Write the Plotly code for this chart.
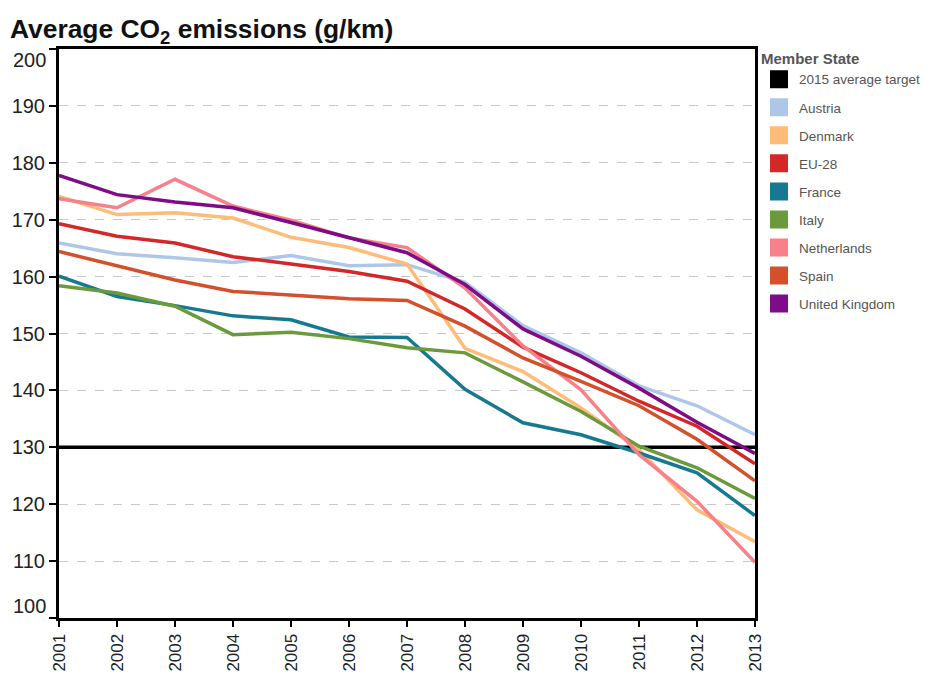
import plotly.graph_objects as go

years = [2001, 2002, 2003, 2004, 2005, 2006, 2007, 2008, 2009, 2010, 2011, 2012, 2013]
year_labels = [str(y) for y in years]
y_ticks = [100, 110, 120, 130, 140, 150, 160, 170, 180, 190, 200]

target = [130] * 13
austria = [165.9, 164.0, 163.3, 162.5, 163.7, 161.9, 162.1, 159.0, 151.4, 146.6, 140.8, 137.3, 132.2]
denmark = [174.1, 170.9, 171.2, 170.3, 166.9, 165.1, 162.2, 147.4, 143.3, 136.9, 129.6, 119.0, 113.4]
eu28 = [169.3, 167.1, 165.9, 163.5, 162.2, 160.9, 159.2, 154.3, 147.6, 143.1, 138.1, 133.7, 127.1]
france = [160.1, 156.5, 154.9, 153.1, 152.4, 149.4, 149.3, 140.2, 134.3, 132.2, 129.0, 125.5, 118.0]
italy = [158.4, 157.1, 154.8, 149.8, 150.2, 149.1, 147.5, 146.6, 141.5, 136.3, 130.2, 126.4, 121.0]
netherlands = [173.7, 172.1, 177.1, 172.4, 169.9, 166.8, 165.1, 158.0, 147.8, 140.1, 128.7, 120.5, 109.8]
spain = [164.4, 161.9, 159.4, 157.4, 156.8, 156.1, 155.8, 151.3, 145.7, 141.6, 137.3, 131.4, 124.1]
uk = [177.8, 174.4, 173.1, 172.1, 169.5, 166.8, 164.2, 158.6, 150.8, 146.0, 140.4, 134.4, 128.9]

series = [
    ("2015 average target", target, "#000000"),
    ("Austria", austria, "#aec7e8"),
    ("Denmark", denmark, "#ffbb78"),
    ("EU-28", eu28, "#d62728"),
    ("France", france, "#17798f"),
    ("Italy", italy, "#6b9a3c"),
    ("Netherlands", netherlands, "#f7808a"),
    ("Spain", spain, "#d4502b"),
    ("United Kingdom", uk, "#7d0c86"),
]

fig = go.Figure()
for name, vals, color in series:
    fig.add_trace(go.Scatter(
        x=years, y=vals, mode="lines", name=name,
        line=dict(color=color, width=3.5),
        legendgroup=name, showlegend=False,
        hovertemplate=name + " %{x}: %{y}<extra></extra>",
    ))
for name, vals, color in series:
    fig.add_trace(go.Scatter(
        x=[None], y=[None], mode="markers", name=name,
        marker=dict(symbol="square", size=16, color=color,
                    line=dict(color=color, width=2)),
        legendgroup=name, showlegend=True,
    ))

# the end labels (100, 200) sit nudged inside the plot, as in the original
y_ticktext = ["" if v in (y_ticks[0], y_ticks[-1]) else str(v) for v in y_ticks]
for v, shift in ((y_ticks[-1], -11), (y_ticks[0], 12)):
    fig.add_annotation(
        x=0, xref="paper", y=v, yref="y", yshift=shift, xshift=-11,
        text=str(v), showarrow=False, xanchor="right", yanchor="middle",
        font=dict(size=20, color="#222222"),
    )

# the page body adds an 8px margin, so the figure is sized/offset to compensate
W, H = 927, 667
fig.update_layout(
    width=W, height=H,
    margin=dict(l=51, r=180, t=41, b=57, autoexpand=False),
    paper_bgcolor="white", plot_bgcolor="white",
    font=dict(family="Liberation Sans, Arial, sans-serif", color="#333333"),
    title=dict(
        text="<b>Average CO<sub>2</sub> emissions (g/km)</b>",
        x=2 / W, xanchor="left", xref="container",
        y=1 - 21 / H, yanchor="middle", yref="container",
        font=dict(size=26.4, color="#111111"),
    ),
    showlegend=True,
    legend=dict(
        x=1.00575, xanchor="left", y=1.008, yanchor="top",
        title=dict(text="<b>Member State</b>", font=dict(size=15, color="#555555")),
        font=dict(size=13.5, color="#555555"),
        tracegroupgap=7.5,
        bgcolor="rgba(0,0,0,0)",
    ),
)

fig.update_xaxes(
    range=[2001, 2013], automargin=False,
    tickmode="array", tickvals=years, ticktext=year_labels,
    tickangle=-90, tickfont=dict(size=17, color="#222222"),
    showgrid=False, zeroline=False,
    showline=True, linecolor="black", linewidth=3, mirror=True,
    ticks="outside", ticklen=6, tickwidth=1.5, tickcolor="black",
)
fig.update_yaxes(
    range=[100, 200], automargin=False,
    tickmode="array", tickvals=y_ticks, ticktext=y_ticktext,
    tickfont=dict(size=20, color="#222222"),
    showgrid=True, gridcolor="#c8c8c8", gridwidth=1, griddash="dash",
    zeroline=False,
    showline=True, linecolor="black", linewidth=3, mirror=True,
    ticks="outside", ticklen=7, tickwidth=1.5, tickcolor="black",
)

fig.write_html("out.html")
